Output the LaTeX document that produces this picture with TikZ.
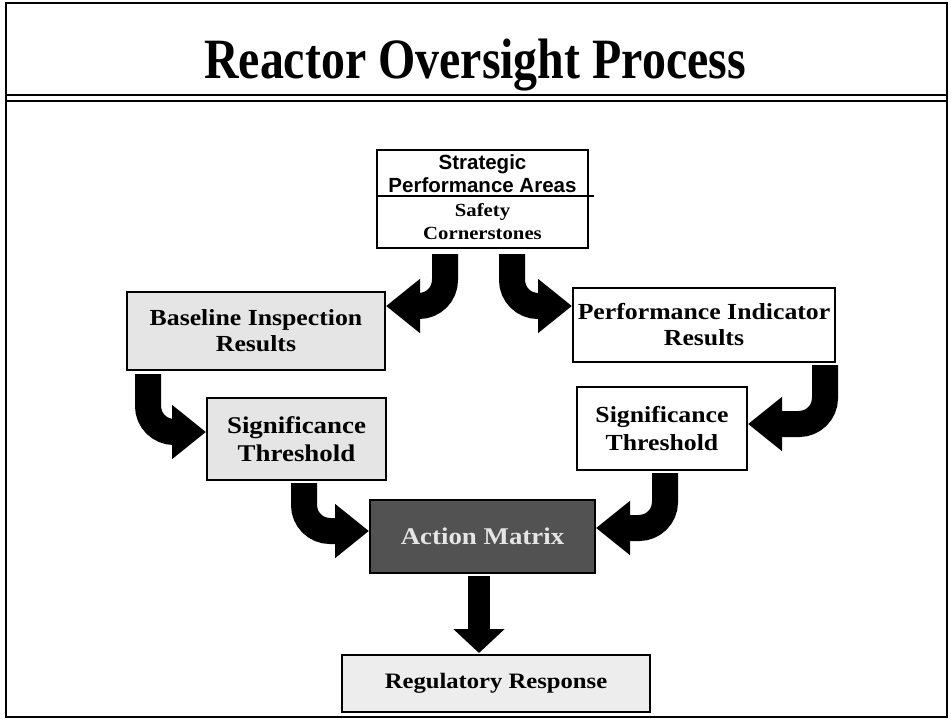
\documentclass[tikz,border=0pt]{standalone}
\usepackage{fontspec}
\setmainfont{Liberation Serif}
\newfontfamily\titlefont[FakeStretch=0.84]{Liberation Serif}
\newfontfamily\bodyfont[FakeStretch=1.12]{Liberation Serif}
\newfontfamily\arialfont{Liberation Sans}
\usetikzlibrary{arrows.meta,calc}
\begin{document}
\begin{tikzpicture}[x=1pt,y=-1pt,
  box/.style={draw=black, line width=2pt, inner sep=0pt, align=center,
    font=\bodyfont\bfseries\fontsize{23}{26}\selectfont},
  bigarrow/.style={draw=black, line width=26pt, rounded corners=26pt,
    -{Triangle[width=52pt,length=34pt]}},
  straightarrow/.style={draw=black, line width=22pt,
    -{Triangle[width=50pt,length=24pt]}}]
\useasboundingbox (0,0) rectangle (951,720);
\fill[white] (0,0) rectangle (951,720);
\draw[line width=1.5pt] (6,3) rectangle (947,717);
\draw[line width=2.5pt] (6,95) -- (947,95);
\draw[line width=1.2pt] (6,101) -- (947,101);
\node[anchor=base] (title) at (475,78) {\titlefont\bfseries\fontsize{57}{60}\selectfont Reactor Oversight Process};

% nodes
\node[box, minimum width=211pt, minimum height=98pt] (strat) at (482.5,199) {};
\node[align=center, inner sep=0pt, font=\arialfont\bfseries\fontsize{20.5}{23}\selectfont] (stratTop) at (482.5,174) {Strategic\\Performance Areas};
\node[align=center, inner sep=0pt, font=\bodyfont\bfseries\fontsize{18.5}{23}\selectfont] (stratBot) at (482.5,222) {Safety\\Cornerstones};
\draw[line width=2pt] (strat.west |- stratTop.south) ++(0,3) coordinate (dl) -- ($(strat.east |- dl)+(5,0)$) coordinate (dr);

\node[box, fill=gray!20, minimum width=258pt, minimum height=78pt] (base) at (256,331) {Baseline Inspection\\Results};
\node[box, minimum width=262pt, minimum height=74pt] (pi) at (704,325) {Performance Indicator\\Results};
\node[box, fill=gray!20, minimum width=179pt, minimum height=82pt, font=\bodyfont\bfseries\fontsize{24}{28}\selectfont] (sigL) at (296.5,439) {Significance\\Threshold};
\node[box, minimum width=170pt, minimum height=83pt, font=\bodyfont\bfseries\fontsize{23}{28}\selectfont] (sigR) at (662,428.5) {Significance\\Threshold};
\node[box, fill=black!68, text=white!90!black, minimum width=225pt, minimum height=73pt, font=\bodyfont\bfseries\fontsize{24}{28}\selectfont] (am) at (482.5,536.5) {Action Matrix};
\node[box, fill=gray!14, minimum width=308pt, minimum height=57pt, font=\bodyfont\bfseries\fontsize{22}{26}\selectfont] (rr) at (496,683.5) {Regulatory Response};

% arrows
\draw[bigarrow] ($(strat.south)+(-37.5,5)$) |- ($(base.east)+(0,-25)$);
\draw[bigarrow] ($(strat.south)+(29.5,5)$) |- ($(pi.west)+(0,-19)$);
\draw[bigarrow] ($(base.south)+(-108,3)$) |- ($(sigL.west)+(0,-7)$);
\draw[bigarrow] ($(pi.south)+(121,2)$) |- ($(sigR.east)+(0,-4.5)$);
\draw[bigarrow] ($(sigL.south)+(7.5,2)$) |- ($(am.west)+(0,-5.5)$);
\draw[bigarrow] ($(sigR.south)+(3,2)$) |- ($(am.east)+(0,-8.5)$);
\draw[straightarrow] ($(am.south)+(-3.5,2)$) -- ($(rr.north)+(-17,-1)$);
\end{tikzpicture}
\end{document}
